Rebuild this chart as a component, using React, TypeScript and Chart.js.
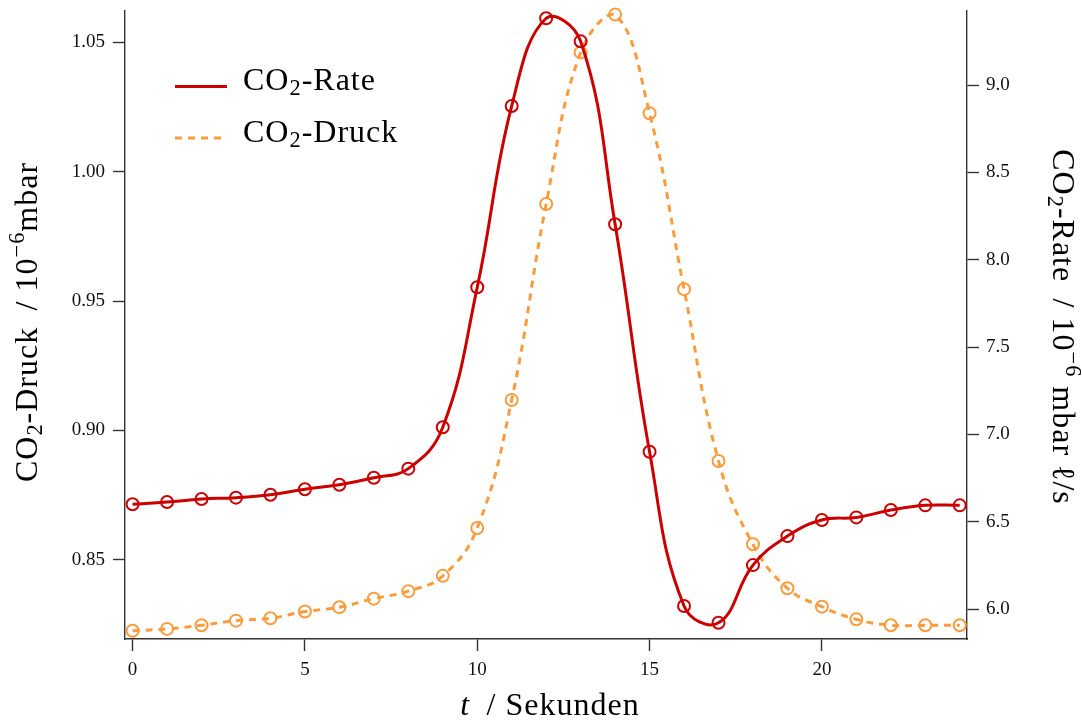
import React, { useEffect, useRef } from "react";
import { Chart, registerables } from "chart.js";

Chart.register(...registerables);

// ---- data ----
const seconds = [0, 1, 2, 3, 4, 5, 6, 7, 8, 9, 10, 11, 12, 13, 14, 15, 16, 17, 18, 19, 20, 21, 22, 23, 24];
const rateValues = [
  6.600, 6.613, 6.630, 6.638, 6.655, 6.686, 6.712, 6.752, 6.804, 7.041,
  7.842, 8.880, 9.382, 9.250, 8.203, 6.901, 6.018, 5.922, 6.252, 6.418,
  6.510, 6.525, 6.567, 6.594, 6.594,
];
const druckValues = [
  0.8226, 0.8233, 0.8247, 0.8265, 0.8274, 0.8300, 0.8317, 0.8350, 0.8379, 0.8438,
  0.8623, 0.9118, 0.9875, 1.0461, 1.0607, 1.0226, 0.9546, 0.8882, 0.8560, 0.8390,
  0.8319, 0.8270, 0.8247, 0.8247, 0.8247,
];
const timeTicks = [0, 5, 10, 15, 20];
const druckTicks = [0.85, 0.9, 0.95, 1.0, 1.05];
const rateTicks = [6.0, 6.5, 7.0, 7.5, 8.0, 8.5, 9.0];
const seriesLabels = ["CO₂-Rate", "CO₂-Druck"];
const xTitle = "*t*\u2009 / Sekunden";
const leftTitle = "CO₂-Druck\u2009 / 10⁻⁶mbar";
const rightTitle = "CO₂-Rate\u2009 / 10⁻⁶ mbar ℓ/s";

const RED = "#cc0000";
const ORANGE = "#fa9b3c";
const AXIS = "#333333";
const FAMILY = '"Liberation Serif", "Times New Roman", serif';
const TITLE_SIZE = 32;

type Seg = { text: string; size: number; italic: boolean; dy: number };
const SUB = "₀₁₂₃₄₅₆₇₈₉";
const SUP = "⁰¹²³⁴⁵⁶⁷⁸⁹";

function parseRich(s: string, base: number): Seg[] {
  const segs: Seg[] = [];
  let italic = false;
  const push = (ch: string, size: number, dy: number) => {
    const last = segs[segs.length - 1];
    if (last && last.size === size && last.dy === dy && last.italic === italic) last.text += ch;
    else segs.push({ text: ch, size, italic, dy });
  };
  for (const ch of s) {
    if (ch === "*") {
      italic = !italic;
      continue;
    }
    const si = SUB.indexOf(ch);
    const pi = SUP.indexOf(ch);
    if (si >= 0) push(String(si), base * 0.7, base * 0.16);
    else if (pi >= 0) push(String(pi), base * 0.7, -base * 0.4);
    else if (ch === "⁻") push("−", base * 0.7, -base * 0.4);
    else push(ch, base, 0);
  }
  return segs;
}

function fontOf(s: Seg) {
  return `${s.italic ? "italic " : ""}${s.size}px ${FAMILY}`;
}

function drawRich(ctx: CanvasRenderingContext2D, segs: Seg[], x: number, y: number, angle: number, align: "center" | "left" = "center") {
  ctx.save();
  ctx.translate(x, y);
  ctx.rotate(angle);
  ctx.textAlign = "left";
  ctx.textBaseline = "alphabetic";
  (ctx as any).letterSpacing = "1px";
  const widths = segs.map((s) => {
    ctx.font = fontOf(s);
    return ctx.measureText(s.text).width;
  });
  const total = widths.reduce((a, b) => a + b, 0);
  let cx = align === "center" ? -total / 2 : 0;
  segs.forEach((s, i) => {
    ctx.font = fontOf(s);
    ctx.fillText(s.text, cx, s.dy);
    cx += widths[i];
  });
  ctx.restore();
}

const annotatePlugin = {
  id: "annotate",
  afterDraw(chart: any) {
    const ctx: CanvasRenderingContext2D = chart.ctx;
    const a = chart.chartArea;
    const midY = (a.top + a.bottom) / 2;
    ctx.save();
    ctx.fillStyle = "#000";
    drawRich(ctx, parseRich(leftTitle, TITLE_SIZE), chart.scales.y.left + 37, midY - 3, -Math.PI / 2);
    drawRich(ctx, parseRich(rightTitle, TITLE_SIZE), chart.scales.y1.right - 29, midY + 2, Math.PI / 2);
    drawRich(ctx, parseRich(xTitle, TITLE_SIZE), (a.left + a.right) / 2 + 4, chart.scales.x.bottom - 7, 0);
    chart.data.datasets.forEach((ds: any, i: number) => {
      const base = a.top + 79 + i * 51.5;
      ctx.beginPath();
      ctx.setLineDash(ds.borderDash || []);
      ctx.lineWidth = ds.borderWidth;
      ctx.strokeStyle = ds.borderColor;
      ctx.moveTo(a.left + 50, base - 3.5);
      ctx.lineTo(a.left + 102, base - 3.5);
      ctx.stroke();
      ctx.setLineDash([]);
      drawRich(ctx, parseRich(ds.label, TITLE_SIZE), a.left + 118, base, 0, "left");
    });
    ctx.restore();
  },
};

const tickFont = { family: FAMILY, size: 19 };

function axisCommon() {
  return {
    grid: { drawOnChartArea: false, drawTicks: true, tickLength: 12, tickColor: AXIS, tickWidth: 1.4 },
    border: { display: true, color: AXIS, width: 1.4 },
  };
}

export default function App() {
  const ref = useRef<HTMLCanvasElement | null>(null);
  useEffect(() => {
    if (!ref.current) return;
    const chart = new Chart(ref.current, {
      type: "line",
      data: {
        datasets: [
          {
            label: seriesLabels[0],
            data: seconds.map((s, i) => ({ x: s, y: rateValues[i] })),
            yAxisID: "y1",
            borderColor: RED,
            borderWidth: 3,
            tension: 0.42,
            pointRadius: 6,
            pointBorderWidth: 2,
            pointBackgroundColor: "rgba(0,0,0,0)",
            pointBorderColor: RED,
            fill: false,
            clip: false,
          },
          {
            label: seriesLabels[1],
            data: seconds.map((s, i) => ({ x: s, y: druckValues[i] })),
            yAxisID: "y",
            borderColor: ORANGE,
            borderWidth: 3,
            borderDash: [7, 6],
            tension: 0.42,
            pointRadius: 6,
            pointBorderWidth: 2,
            pointBackgroundColor: "rgba(0,0,0,0)",
            pointBorderColor: ORANGE,
            fill: false,
            clip: false,
          },
        ],
      } as any,
      options: {
        animation: false,
        responsive: false,
        devicePixelRatio: 1,
        layout: { padding: { top: 11, left: 0, right: 0, bottom: 0 } },
        plugins: { legend: { display: false }, tooltip: { enabled: false } },
        scales: {
          x: {
            type: "linear",
            position: "bottom",
            min: -0.22,
            max: 24.21,
            ...axisCommon(),
            afterBuildTicks: (s: any) => {
              s.ticks = timeTicks.map((v) => ({ value: v }));
            },
            afterFit: (s: any) => {
              s.height = 83;
              s.paddingLeft = 0;
              s.paddingRight = 0;
            },
            ticks: { font: tickFont, color: "#111", padding: 8, maxRotation: 0, callback: (v: any) => String(v) },
          },
          y: {
            type: "linear",
            position: "left",
            min: 0.8194,
            max: 1.0621,
            ...axisCommon(),
            afterBuildTicks: (s: any) => {
              s.ticks = druckTicks.map((v) => ({ value: v }));
            },
            afterFit: (s: any) => {
              s.width = 125;
              s.paddingTop = 0;
              s.paddingBottom = 0;
            },
            ticks: { font: tickFont, color: "#111", padding: 8, callback: (v: any) => Number(v).toFixed(2) },
          },
          y1: {
            type: "linear",
            position: "right",
            min: 5.829,
            max: 9.4236,
            ...axisCommon(),
            afterBuildTicks: (s: any) => {
              s.ticks = rateTicks.map((v) => ({ value: v }));
            },
            afterFit: (s: any) => {
              s.width = 115;
              s.paddingTop = 0;
              s.paddingBottom = 0;
            },
            ticks: { font: tickFont, color: "#111", padding: 7, callback: (v: any) => Number(v).toFixed(1) },
          },
        },
      } as any,
      plugins: [annotatePlugin],
    });
    return () => chart.destroy();
  }, []);
  return (
    <div style={{ position: "fixed", left: 0, top: 0, width: 1082, height: 722, background: "#fff" }}>
      <canvas ref={ref} width={1082} height={722} style={{ display: "block" }} />
    </div>
  );
}
